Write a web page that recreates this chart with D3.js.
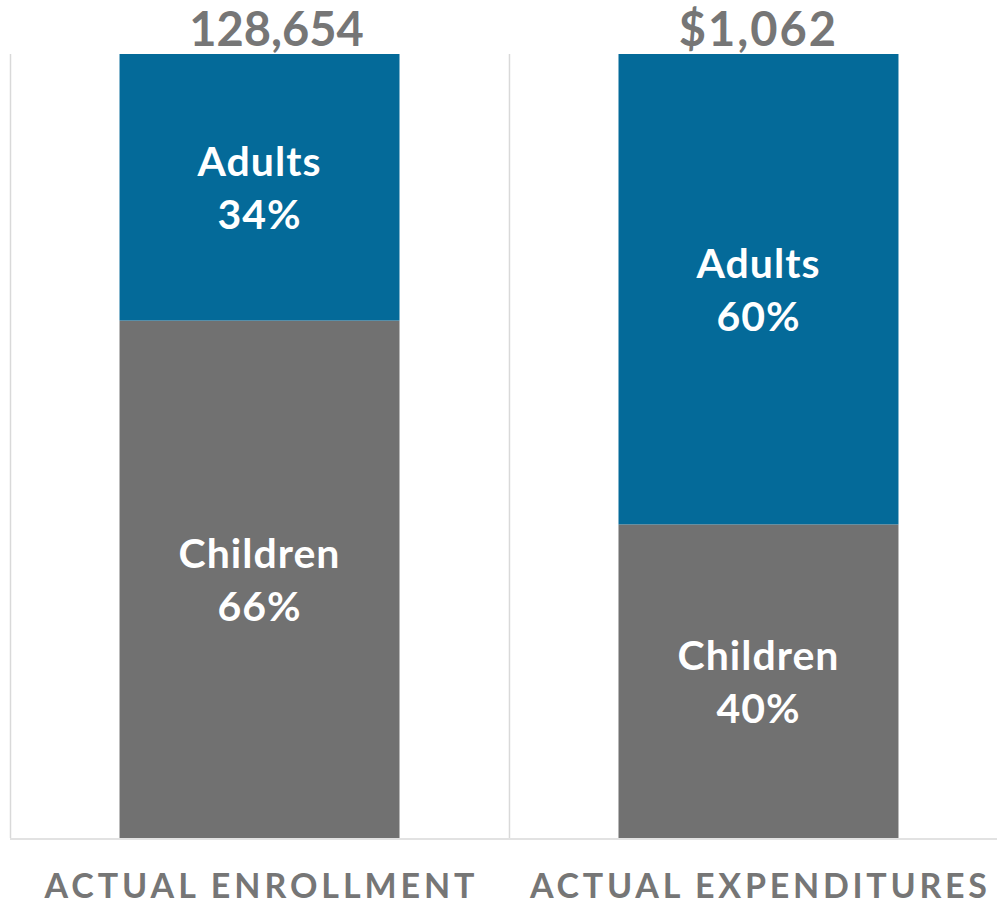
<!DOCTYPE html>
<html><head><meta charset="utf-8">
<script src="https://cdn.jsdelivr.net/npm/d3@7"></script>
<style>body{margin:0;background:#fff}svg{display:block}text{font-family:Lato,"Open Sans",sans-serif;font-weight:bold}</style>
</head><body>
<svg id="c" width="997" height="906"></svg>
<script>
const categories = ["ACTUAL ENROLLMENT", "ACTUAL EXPENDITURES"];
const totalLabels = ["128,654", "$1,062"];
const children = [0.66, 0.40];
const adults = [0.34, 0.60];
const seriesNames = ["Children", "Adults"];
const colors = {Children: "#717171", Adults: "#046A99"};

const svg = d3.select("#c");
const W = 997, H = 906;
const m = {left: 10, top: 54, bottom: 68};
const x = d3.scaleBand().domain(categories).range([m.left, W + 11]).paddingInner(0.4389).paddingOuter(0.2195);
const y = d3.scaleLinear().domain([0, 1]).range([H - m.bottom, m.top]);

const data = categories.map((c, i) => ({cat: c, Children: children[i], Adults: adults[i]}));
const stack = d3.stack().keys(seriesNames)(data);

// gridlines (category separators)
const step = x.step();
const gx = [m.left, m.left + step];
svg.selectAll("line.grid").data(gx).join("line")
  .attr("x1", d => d + 0.5).attr("x2", d => d + 0.5)
  .attr("y1", y(1)).attr("y2", y(0))
  .attr("stroke", "#d9d9d9").attr("stroke-width", 1.5);

// bars
stack.forEach(s => {
  svg.append("g").selectAll("rect").data(s).join("rect")
    .attr("x", d => x(d.data.cat))
    .attr("width", x.bandwidth())
    .attr("y", d => y(d[1]))
    .attr("height", d => y(d[0]) - y(d[1]))
    .attr("fill", colors[s.key]);
  const g = svg.append("g").selectAll("g").data(s).join("g")
    .attr("transform", d => `translate(${x(d.data.cat) + x.bandwidth()/2},${(y(d[0]) + y(d[1]))/2})`);
  g.append("text").attr("text-anchor", "middle").attr("y", -11)
    .attr("fill", "#fff").attr("font-size", 41).attr("letter-spacing", 1).text(s.key);
  g.append("text").attr("text-anchor", "middle").attr("y", 42)
    .attr("fill", "#fff").attr("font-size", 41).attr("letter-spacing", 1)
    .text(d => Math.round((d[1] - d[0]) * 100) + "%");
});

// baseline
svg.append("line").attr("x1", m.left).attr("x2", W).attr("y1", y(0) + 1).attr("y2", y(0) + 1)
  .attr("stroke", "#d9d9d9").attr("stroke-width", 1.5);

// total labels
const totalDx = [17, 0];
svg.selectAll("text.total").data(categories).join("text")
  .attr("class", "total")
  .attr("x", (d, i) => x(d) + x.bandwidth()/2 + totalDx[i]).attr("y", 46)
  .attr("text-anchor", "middle").attr("fill", "#767676").attr("font-size", 47)
  .attr("letter-spacing", (d, i) => i === 1 ? 2 : 0)
  .text((d, i) => totalLabels[i]);

// category axis labels
const catW = [430, 457];
svg.selectAll("text.cat").data(categories).join("text")
  .attr("class", "cat")
  .attr("x", d => x(d) + x.bandwidth()/2).attr("y", 898)
  .attr("text-anchor", "middle").attr("fill", "#767676").attr("font-size", 34)
  .attr("textLength", (d, i) => catW[i]).attr("lengthAdjust", "spacing")
  .text(d => d);
</script>
</body></html>
